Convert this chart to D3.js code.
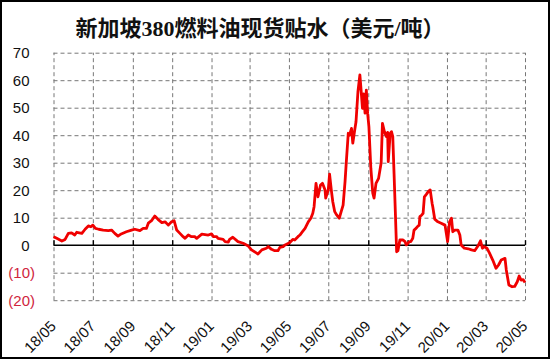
<!DOCTYPE html>
<html><head><meta charset="utf-8">
<script src="https://cdn.jsdelivr.net/npm/d3@7"></script>
<style>
html,body{margin:0;padding:0;background:#fff;}
svg{display:block;}
</style></head>
<body>
<svg id="c" width="550" height="359"></svg>
<script>
const title = "新加坡380燃料油现货贴水（美元/吨）";
const xTickDates = ["2018-05-01","2018-07-01","2018-09-01","2018-11-01","2019-01-01","2019-03-01","2019-05-01","2019-07-01","2019-09-01","2019-11-01","2020-01-01","2020-03-01","2020-05-01"];
const yTicks = [-20,-10,0,10,20,30,40,50,60,70];
const dates = [
"2018-05-01","2018-05-06","2018-05-11","2018-05-14","2018-05-19","2018-05-24","2018-05-29","2018-06-03","2018-06-06","2018-06-14",
"2018-06-19","2018-06-24","2018-06-28","2018-07-01","2018-07-05","2018-07-10","2018-07-17","2018-07-25","2018-07-30","2018-08-04",
"2018-08-09","2018-08-14","2018-08-22","2018-08-30","2018-09-04","2018-09-12","2018-09-17","2018-09-22","2018-09-25","2018-09-30",
"2018-10-05","2018-10-10","2018-10-16","2018-10-21","2018-10-26","2018-10-31","2018-11-04","2018-11-08","2018-11-13","2018-11-18",
"2018-11-21","2018-11-26","2018-12-01","2018-12-06","2018-12-09","2018-12-17","2018-12-27","2019-01-01","2019-01-04","2019-01-09",
"2019-01-11","2019-01-19","2019-01-22","2019-01-27","2019-01-29","2019-02-03","2019-02-11","2019-02-19","2019-02-27","2019-03-04",
"2019-03-12","2019-03-14","2019-03-20","2019-03-27","2019-03-30","2019-04-04","2019-04-09","2019-04-14","2019-04-17","2019-04-22",
"2019-04-25","2019-05-02","2019-05-07","2019-05-10","2019-05-15","2019-05-18","2019-05-22","2019-05-26","2019-05-31","2019-06-04",
"2019-06-07","2019-06-09","2019-06-12","2019-06-15","2019-06-19","2019-06-22","2019-06-26","2019-06-27","2019-07-01","2019-07-03",
"2019-07-06","2019-07-08","2019-07-11","2019-07-14","2019-07-18","2019-07-21","2019-07-24","2019-07-27","2019-07-29","2019-08-01",
"2019-08-03","2019-08-06","2019-08-08","2019-08-11","2019-08-13","2019-08-16","2019-08-19","2019-08-21","2019-08-23","2019-08-25",
"2019-08-27","2019-08-29","2019-08-31","2019-09-02","2019-09-05","2019-09-08","2019-09-10","2019-09-13","2019-09-17","2019-09-21",
"2019-09-23","2019-09-26","2019-09-29","2019-10-01","2019-10-02","2019-10-05","2019-10-07","2019-10-09","2019-10-11","2019-10-13",
"2019-10-15","2019-10-17","2019-10-20","2019-10-25","2019-10-28","2019-10-30","2019-11-04","2019-11-06","2019-11-09","2019-11-11",
"2019-11-14","2019-11-16","2019-11-19","2019-11-20","2019-11-23","2019-11-25","2019-11-27","2019-11-30","2019-12-03","2019-12-06",
"2019-12-09","2019-12-10","2019-12-13","2019-12-18","2019-12-23","2019-12-29","2020-01-02","2020-01-05","2020-01-08","2020-01-10",
"2020-01-13","2020-01-18","2020-01-21","2020-01-23","2020-01-28","2020-02-03","2020-02-08","2020-02-13","2020-02-18","2020-02-22",
"2020-02-25","2020-02-28","2020-03-03","2020-03-07","2020-03-12","2020-03-17","2020-03-21","2020-03-25","2020-03-31","2020-04-02",
"2020-04-06","2020-04-11","2020-04-15","2020-04-19","2020-04-22","2020-04-25","2020-04-28","2020-05-01"
];
const values = [
3.1,2.5,1.9,1.5,2.1,4.3,4.5,3.7,4.7,4.3,
5.8,7.0,6.7,7.3,6.1,5.8,5.5,5.3,5.5,4.3,
3.3,4.1,4.9,5.5,5.8,5.3,6.1,6.1,8.0,8.9,
10.6,9.4,8.2,8.5,7.3,8.5,8.9,5.5,4.3,3.1,
2.5,3.7,3.1,3.1,2.5,4.0,3.7,4.1,3.1,3.1,
2.5,2.1,1.3,1.1,2.1,2.9,1.3,0.7,-0.3,-1.7,
-2.9,-3.2,-1.7,-1.1,-0.5,-1.5,-2.0,-2.0,-0.8,-0.5,
0.1,0.9,2.1,1.9,3.1,3.7,4.9,6.1,8.5,9.8,
11.6,14.0,22.5,17.6,21.9,22.5,20.1,17.1,20.1,25.8,
19.5,15.8,12.2,11.0,9.8,12.2,14.6,23.1,30.4,40.7,
40.0,42.5,37.1,41.9,44.9,55.8,61.9,56.0,49.8,55.0,
48.0,56.4,48.0,43.1,28.0,18.9,17.1,22.5,24.3,30.0,
44.3,41.3,39.5,41.0,30.4,40.7,41.3,39.5,26.0,12.0,
-2.4,-2.0,1.9,1.9,1.3,0.1,1.3,1.3,2.5,5.5,
6.1,6.7,7.3,10.4,11.0,11.6,17.6,18.5,19.5,20.1,
15.2,14.0,9.5,8.5,8.0,7.3,1.3,8.5,9.8,4.9,
5.5,5.5,3.7,0.1,-1.1,-1.3,-1.7,-2.0,-0.3,1.6,
-1.1,-0.5,-1.1,-2.9,-5.4,-8.4,-7.2,-5.4,-4.8,-9.0,
-14.5,-15.1,-15.0,-13.3,-11.2,-12.7,-12.5,-13.6
];

(function(){
const parse = d3.timeParse("%Y-%m-%d");
const data = dates.map((d,i)=>({date:parse(d), value:values[i]}));
const svg = d3.select("#c");
const W=550,H=359;
svg.append("rect").attr("x",0).attr("y",0).attr("width",W).attr("height",H).attr("fill","#fff");
svg.append("rect").attr("x",1).attr("y",1).attr("width",W-2).attr("height",H-2)
  .attr("fill","none").attr("stroke","#000").attr("stroke-width",2);

const pLeft=53.5, pRight=525, pTop=52.7, pBottom=300.2;
const x = d3.scaleTime().domain([parse(xTickDates[0]), parse(xTickDates[xTickDates.length-1])]).range([pLeft,pRight]);
const y = d3.scaleLinear().domain([-20,70]).range([pBottom,pTop]);
const xTickVals = xTickDates.map(parse);
const gridColor = "#777777";

// horizontal dashed gridlines
const hg = svg.append("g").attr("transform",`translate(${pLeft},0)`)
  .call(d3.axisLeft(y).tickValues(yTicks.filter(v=>v!==0)).tickSize(-(pRight-pLeft)).tickFormat(""));
hg.select(".domain").remove();
hg.selectAll(".tick line").attr("stroke",gridColor).attr("stroke-width",1).attr("stroke-dasharray","4 3");

// vertical dashed gridlines
const vg = svg.append("g").attr("transform",`translate(0,${pBottom})`)
  .call(d3.axisBottom(x).tickValues(xTickVals).tickSize(-(pBottom-pTop)).tickFormat(""));
vg.select(".domain").remove();
vg.selectAll(".tick line").attr("stroke",gridColor).attr("stroke-width",1).attr("stroke-dasharray","4 3");

// zero axis with small inner ticks
const zg = svg.append("g").attr("transform",`translate(0,${y(0)})`)
  .call(d3.axisBottom(x).tickValues(xTickVals).tickSize(-5).tickFormat(""));
zg.select(".domain").attr("d",`M${pLeft},0H${pRight}`).attr("stroke","#000").attr("stroke-width",1.4);
zg.selectAll(".tick line").attr("stroke","#000").attr("stroke-width",1.4);

// x labels
const fmt = d3.timeFormat("%y/%m");
const xl = svg.append("g").attr("transform",`translate(0,${pBottom})`)
  .call(d3.axisBottom(x).tickValues(xTickVals).tickSize(0).tickFormat(fmt));
xl.select(".domain").remove();
xl.selectAll("text")
  .attr("font-family","Liberation Sans, Arial, sans-serif").attr("font-size",15).attr("fill","#111")
  .attr("text-anchor","end").attr("y",0).attr("dy",0)
  .attr("transform","translate(3,27) rotate(-45)");

// y labels
const yl = svg.append("g").attr("transform",`translate(35,0)`)
  .call(d3.axisLeft(y).tickValues(yTicks).tickSize(0).tickPadding(0)
    .tickFormat(v=> v<0 ? `(${Math.abs(v)})` : `${v}`));
yl.select(".domain").remove();
yl.selectAll("text")
  .attr("font-family","Liberation Sans, Arial, sans-serif").attr("font-size",15)
  .attr("fill",v=> v<0 ? "#d0253c" : "#111")
  .attr("x",v=> v<0 ? 0 : -5.5);

// series line
const line = d3.line().x(d=>x(d.date)).y(d=>y(d.value));
svg.append("path").datum(data).attr("d",line).attr("fill","none")
  .attr("stroke","#f00000").attr("stroke-width",2.8).attr("stroke-linejoin","round");

// title
svg.append("text").attr("x",260).attr("y",36).attr("text-anchor","middle")
  .attr("font-family","Liberation Serif, 'Noto Sans CJK SC', serif").attr("font-weight","bold")
  .attr("font-size",22).attr("fill","#111").text(title);
})();
</script>
</body></html>
